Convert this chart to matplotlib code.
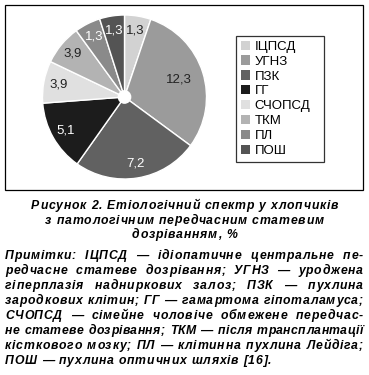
import matplotlib
matplotlib.use("Agg")
import matplotlib.pyplot as plt
from matplotlib.patches import Rectangle, Circle
import numpy as np

plt.rcParams['font.family'] = ['Liberation Sans', 'DejaVu Sans']

categories = ["ІЦПСД", "УГНЗ", "ПЗК", "ГГ", "СЧОПСД", "ТКМ", "ПЛ", "ПОШ"]
values = ["1,3", "12,3", "7,2", "5,1", "3,9", "3,9", "1,3", "1,3"]
# slice sizes as drawn in the picture (% of circle)
shares = [5.2, 29.9, 24.7, 14.0, 8.3, 7.9, 5.1, 4.9]
colors = ["#d2d2d2", "#9b9b9b", "#616161", "#1c1c1c",
          "#e0e0e0", "#b3b3b3", "#8a8a8a", "#545454"]
text_colors = ["#222222", "#222222", "white", "white",
               "#222222", "#222222", "white", "white"]

caption = ["Рисунок 2. Етіологічний спектр у хлопчиків",
           "з патологічним передчасним статевим",
           "дозріванням, %"]
notes = ["Примітки: ІЦПСД — ідіопатичне центральне пе-",
         "редчасне статеве дозрівання; УГНЗ — уроджена",
         "гіперплазія надниркових залоз; ПЗК — пухлина",
         "зародкових клітин; ГГ — гамартома гіпоталамуса;",
         "СЧОПСД — сімейне чоловіче обмежене передчас-",
         "не статеве дозрівання; ТКМ — після трансплантації",
         "кісткового мозку; ПЛ — клітинна пухлина Лейдіга;",
         "ПОШ — пухлина оптичних шляхів [16]."]

W, H = 369, 375
fig = plt.figure(figsize=(W / 100, H / 100), dpi=100)

def fx(px):
    return px / W

def fy(py):
    return 1 - py / H

# outer frame
fig.patches.append(Rectangle((fx(5), fy(190)), fx(358), 185 / H, transform=fig.transFigure,
                             fill=False, edgecolor="black", linewidth=0.9))

cx, cy, r = 124.5, 97, 82
ax = fig.add_axes([fx(cx - r), fy(cy + r), 2 * r / W, 2 * r / H])
wedges, _ = ax.pie(shares, colors=colors, startangle=90, counterclock=False,
                   wedgeprops=dict(edgecolor="white", linewidth=1.0))
ax.set_xlim(-1, 1)
ax.set_ylim(-1, 1)
ax.set_aspect("equal")
ax.add_patch(Circle((0, 0), 0.075, color="white", zorder=5))

for i, w in enumerate(wedges):
    mid = np.deg2rad((w.theta1 + w.theta2) / 2)
    d = 0.7 if i == 1 else 0.82
    ax.text(d * np.cos(mid), d * np.sin(mid), values[i], ha="center", va="center",
            fontsize=9.5, color=text_colors[i])

leg = fig.legend(wedges, categories, loc="upper left", mode="expand",
                 bbox_to_anchor=(fx(236), fy(36), fx(88), 0), fontsize=9.5,
                 frameon=True, fancybox=False, edgecolor="black",
                 handlelength=0.7, handleheight=0.7, handletextpad=0.35,
                 labelspacing=0.2, borderpad=0.35, borderaxespad=0)
leg.get_frame().set_linewidth(0.9)
for h in leg.legend_handles:
    h.set_edgecolor("none")

style = dict(fontsize=8.8, fontweight="bold", fontstyle="italic")
track = 0.75  # extra px between letters

fig.canvas.draw()
renderer = fig.canvas.get_renderer()
adv_cache = {}

def adv(c):
    if c not in adv_cache:
        t = fig.text(0, 0, "|" + c + "|", **style)
        a = t.get_window_extent(renderer).width
        t.set_text("||")
        b = t.get_window_extent(renderer).width
        t.remove()
        adv_cache[c] = a - b
    return adv_cache[c]

def word_width(w_, tr):
    return sum(adv(c) for c in w_) + tr * (len(w_) - 1)

def put_word(x, yb, w_, tr):
    for c in w_:
        fig.text(fx(x), yb, c, ha="left", va="baseline", **style)
        x += adv(c) + tr
    return x - tr

space = adv(" ") + 2 * track
min_gap = adv(" ") + 1.5

# caption, centred
for i, line in enumerate(caption):
    words = line.split(" ")
    total = sum(word_width(w_, track) for w_ in words) + space * (len(words) - 1)
    x = W / 2 - total / 2
    yb = fy(209 + 14.5 * i)
    for w_ in words:
        x = put_word(x, yb, w_, track) + space

# justified notes
x0, x1 = 5, 363
for i, line in enumerate(notes):
    yb = fy(259 + 15 * i)
    words = line.split(" ")
    tr = track
    if i == len(notes) - 1:
        gap = space
    else:
        gap = (x1 - x0 - sum(word_width(w_, tr) for w_ in words)) / (len(words) - 1)
        if gap < min_gap:
            n_in = sum(len(w_) - 1 for w_ in words)
            plain = sum(word_width(w_, 0) for w_ in words)
            tr = (x1 - x0 - plain - min_gap * (len(words) - 1)) / n_in
            gap = min_gap
    x = x0
    for w_ in words:
        put_word(x, yb, w_, tr)
        x += word_width(w_, tr) + gap

fig.savefig("out.png", dpi=100)
